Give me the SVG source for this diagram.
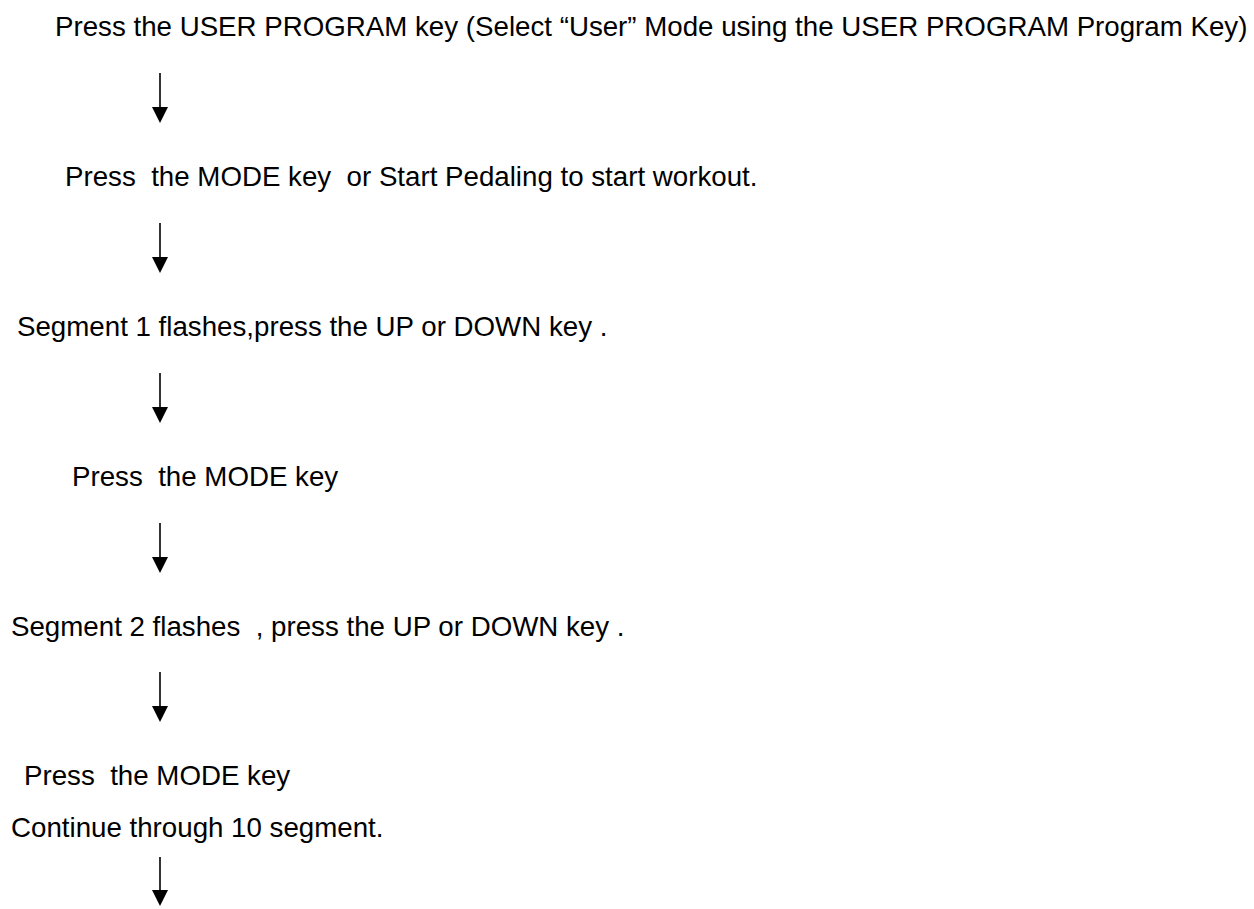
<svg xmlns="http://www.w3.org/2000/svg" width="1254" height="909" viewBox="0 0 1254 909">
<style>
.t{font-family:"Liberation Sans",Arial,sans-serif;font-size:27.7px;fill:#000;white-space:pre}
.c{stroke:#000;stroke-width:1.6;fill:none}
</style>
<defs>
<marker id="ah" markerUnits="userSpaceOnUse" markerWidth="16" markerHeight="16" viewBox="0 0 16 16" refX="0" refY="8" orient="auto">
<path d="M0,0 L16,8 L0,16 Z" fill="#000"/>
</marker>
</defs>
<rect width="1254" height="909" fill="#fff"/>
<g id="n1"><text class="t" x="55" y="36" xml:space="preserve">Press the USER PROGRAM key (Select “User” Mode using the USER PROGRAM Program Key)</text></g>
<g id="n2"><text class="t" x="65" y="186" xml:space="preserve">Press  the MODE key  or Start Pedaling to start workout.</text></g>
<g id="n3"><text class="t" x="17" y="336" xml:space="preserve">Segment 1 flashes,press the UP or DOWN key .</text></g>
<g id="n4"><text class="t" x="72" y="486" xml:space="preserve">Press  the MODE key</text></g>
<g id="n5"><text class="t" x="11" y="636" xml:space="preserve">Segment 2 flashes  , press the UP or DOWN key .</text></g>
<g id="n6"><text class="t" x="24" y="785" xml:space="preserve">Press  the MODE key</text><text class="t" x="11" y="837" xml:space="preserve">Continue through 10 segment.</text></g>
<g id="connectors">
<line class="c" x1="160" y1="73" x2="160" y2="107" marker-end="url(#ah)"/>
<line class="c" x1="160" y1="223" x2="160" y2="257" marker-end="url(#ah)"/>
<line class="c" x1="160" y1="373" x2="160" y2="407" marker-end="url(#ah)"/>
<line class="c" x1="160" y1="523" x2="160" y2="557" marker-end="url(#ah)"/>
<line class="c" x1="160" y1="672" x2="160" y2="706" marker-end="url(#ah)"/>
<line class="c" x1="160" y1="857" x2="160" y2="890" marker-end="url(#ah)"/>
</g>
</svg>
